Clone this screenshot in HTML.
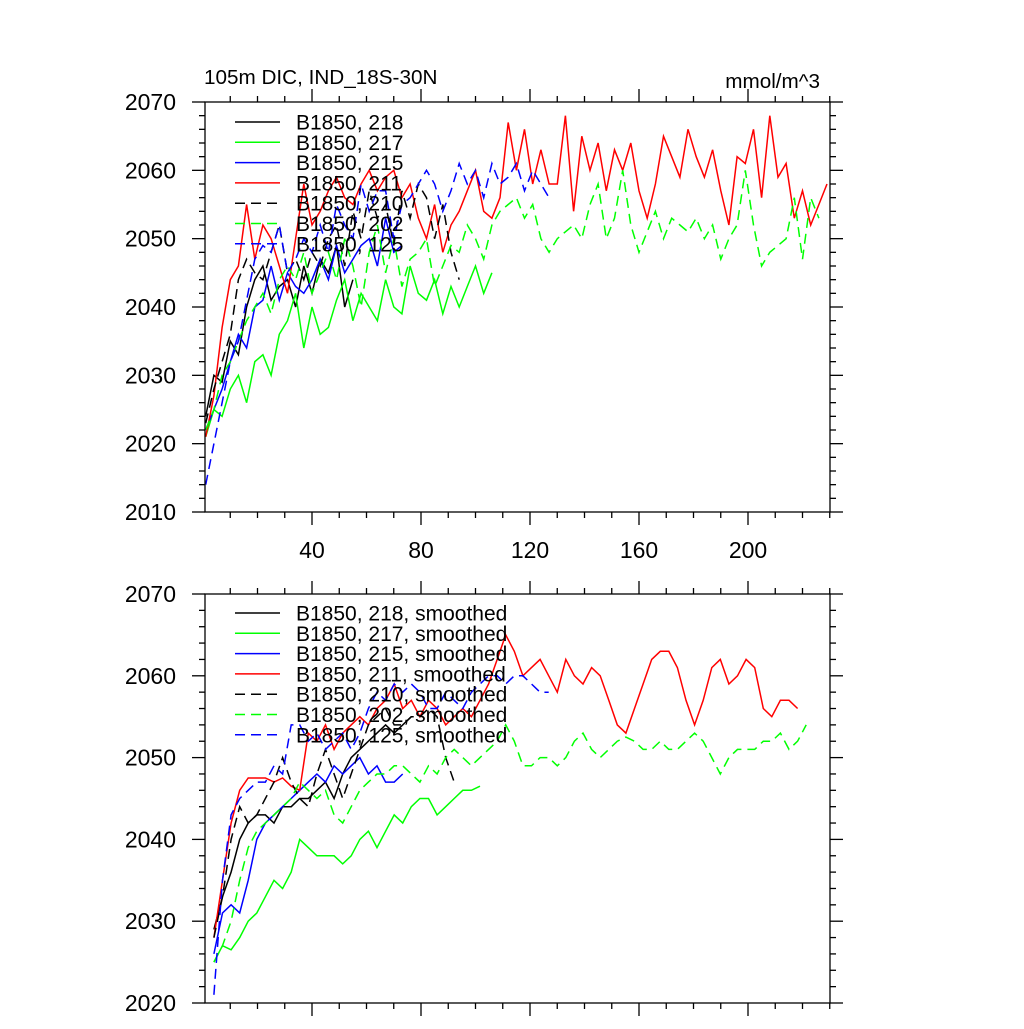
<!DOCTYPE html>
<html><head><meta charset="utf-8"><style>
body{margin:0;background:#fff;width:1024px;height:1024px;overflow:hidden}
svg{font-family:"Liberation Sans",sans-serif}
</style></head><body>
<svg id="chart" width="1024" height="1024" xmlns="http://www.w3.org/2000/svg">
<text x="204" y="84" font-size="20.7">105m DIC, IND_18S-30N</text>
<text x="820" y="88" font-size="20.7" text-anchor="end">mmol/m^3</text>
</svg>
<script>
// ---- data ----
const xTicks=[40,80,120,160,200];
const topYTicks=[2010,2020,2030,2040,2050,2060,2070];
const botYTicks=[2020,2030,2040,2050,2060,2070];
const names=["B1850, 218","B1850, 217","B1850, 215","B1850, 211","B1850, 210","B1850, 202","B1850, 125"];
const colors=["#000","#0f0","#00f","#f00","#000","#0f0","#00f"];
const dashed=[false,false,false,false,true,true,true];
const rawStart=1, rawStep=3, smStart=4, smStep=3.15;
const raw218=[2024,2030,2029,2035,2033,2040,2044,2046,2041,2043,2044,2040,2046,2042,2047,2045,2049,2040,2044];
const raw217=[2021,2025,2024,2028,2030,2026,2032,2033,2030,2036,2038,2042,2034,2040,2036,2037,2041,2044,2038,2042,2040,2038,2044,2040,2039,2046,2042,2041,2044,2039,2043,2040,2043,2046,2042,2045];
const raw215=[2022,2025,2028,2032,2036,2034,2040,2041,2046,2041,2045,2043,2042,2044,2047,2044,2049,2045,2047,2049,2050,2046,2053,2048,2049];
const raw211=[2021,2027,2037,2044,2046,2055,2047,2052,2050,2046,2042,2050,2058,2052,2054,2057,2059,2056,2055,2058,2060,2057,2059,2060,2056,2058,2053,2050,2055,2048,2052,2054,2057,2060,2054,2053,2056,2067,2060,2066,2058,2063,2058,2058,2068,2054,2065,2060,2064,2057,2063,2060,2064,2057,2053,2058,2065,2062,2059,2066,2062,2059,2063,2057,2052,2062,2061,2066,2056,2068,2059,2061,2053,2057,2052,2055,2058];
const raw210=[2023,2028,2032,2036,2044,2047,2045,2044,2048,2052,2045,2047,2044,2048,2046,2050,2052,2046,2054,2050,2057,2053,2055,2049,2057,2053,2058,2056,2050,2055,2048,2044];
const raw202=[2022,2025,2030,2032,2035,2038,2040,2042,2039,2044,2046,2044,2048,2042,2045,2048,2044,2050,2046,2040,2048,2052,2045,2050,2043,2047,2048,2050,2043,2046,2049,2048,2052,2050,2047,2052,2054,2055,2056,2053,2055,2050,2048,2050,2051,2052,2050,2055,2058,2050,2053,2060,2052,2048,2051,2054,2050,2053,2052,2051,2053,2050,2052,2047,2050,2052,2060,2052,2046,2048,2049,2050,2056,2047,2056,2053];
const raw125=[2014,2020,2026,2032,2035,2041,2047,2049,2048,2052,2045,2047,2050,2048,2052,2048,2055,2052,2050,2058,2054,2057,2057,2050,2055,2056,2058,2060,2058,2054,2057,2061,2058,2060,2056,2061,2058,2059,2061,2057,2060,2058,2056];
const sm218=[2029,2033,2036,2040,2042,2043,2043,2042,2044,2044,2045,2045,2046,2047,2045,2048,2050,2051,2052,2053,2054,2053,2054,2055];
const sm217=[2025,2027,2026.5,2028,2030,2031,2033,2035,2034,2036,2040,2039,2038,2038,2038,2037,2038,2040,2041,2039,2041,2043,2042,2044,2045,2045,2043,2044,2045,2046,2046,2046.5];
const sm215=[2026,2031,2032,2031,2035,2040,2042,2043,2044,2045,2046,2047,2048,2047,2049,2048,2049,2050,2048,2049,2047,2047,2048];
const sm211=[2028,2035,2042,2046,2047.5,2047.5,2047.5,2047,2047.5,2046.5,2046,2053,2052,2054,2051,2053,2054,2055,2054,2056,2057,2059,2056,2057,2055,2057,2056,2054,2055,2056,2055,2057,2059,2062,2065,2063,2060,2061,2062,2060,2058,2062,2060,2059,2061,2060,2057,2054,2053,2056,2059,2062,2063,2063,2061,2057,2054,2057,2061,2062,2059,2060,2062,2061,2056,2055,2057,2057,2056];
const sm210=[2028,2033,2040,2044,2042,2043,2045,2047,2050,2047,2045,2044,2048,2051,2048,2045,2048,2051,2054,2055,2056,2054,2054,2055,2055,2056,2055,2050,2047];
const sm202=[2025,2027,2030,2035,2039,2041,2042,2043,2044,2045,2047,2046,2045,2046,2043,2042,2044,2046,2047,2048,2048,2049,2049,2048,2047,2049,2048,2050,2051,2050,2049,2050,2051,2052,2054,2052,2049,2049,2050,2050,2049,2050,2052,2053,2051,2050,2051,2052,2052.5,2052,2051,2051,2052,2051,2051,2052,2053,2052,2050,2048,2050,2051,2051,2051,2052,2052,2053,2051,2052,2054];
const sm125=[2021,2035,2043,2045,2046,2047,2047,2049,2048,2054,2054,2052,2053,2051,2052,2053,2051,2053,2056,2058,2057,2059,2058,2059,2058,2056,2056,2058,2057,2056,2058,2059,2060,2060,2059,2060,2060,2059,2058,2058];
const rawSeries=[raw218,raw217,raw215,raw211,raw210,raw202,raw125];
const smSeries=[sm218,sm217,sm215,sm211,sm210,sm202,sm125];

// ---- drawing ----
const svg=document.getElementById('chart');
const NS="http://www.w3.org/2000/svg";
const X0=205,X1=830;
const xs=v=>203+2.725*v;
function mk(t,a,parent){const e=document.createElementNS(NS,t);for(const k in a)e.setAttribute(k,a[k]);(parent||svg).appendChild(e);return e;}
function panel(tag,top,bot,yMin,yMax,yTicks,series,start,step,suffix,legendY,xLabels){
  const g=mk('g',{});
  
  
  const ys=v=>bot-(v-yMin)/(yMax-yMin)*(bot-top);
  const clip=mk('clipPath',{id:'c'+tag},g);mk('rect',{x:X0,y:top,width:X1-X0,height:bot-top},clip);
  const sg=mk('g',{'clip-path':'url(#c'+tag+')'},g);
  series.forEach((d,i)=>{
    const pts=d.map((v,j)=>xs(start+j*step).toFixed(1)+','+ys(v).toFixed(1)).join(' ');
    const p=mk('polyline',{points:pts,fill:'none',stroke:colors[i],'stroke-width':1.5,'stroke-dasharray':dashed[i]?'10,6':'none'},sg);
    
    
  });
  const ax=mk('g',{stroke:'#000','stroke-width':1.3},g);
  
  
  mk('rect',{x:X0,y:top,width:X1-X0,height:bot-top,fill:'none'},ax);
  for(let v=yMin;v<=yMax;v+=2){const y=ys(v),L=(v%10===0)?13:6;
    mk('line',{x1:X0-L,y1:y,x2:X0,y2:y},ax);mk('line',{x1:X1,y1:y,x2:X1+L,y2:y},ax);}
  for(let v=10;v<=230;v+=10){const x=xs(v);if(x<X0||x>X1)continue;const L=(v%40===0)?13:6;
    mk('line',{x1:x,y1:bot,x2:x,y2:bot+L},ax);mk('line',{x1:x,y1:top-L,x2:x,y2:top},ax);}
  yTicks.forEach(v=>{const t=mk('text',{x:176,y:ys(v)+8,'font-size':23,'text-anchor':'end'},g);t.textContent=v;
    
    });
  if(xLabels)xTicks.forEach(v=>{const t=mk('text',{x:xs(v),y:bot+46,'font-size':23,'text-anchor':'middle'},g);t.textContent=v;
    
    });
  names.forEach((n,i)=>{const y=legendY+i*20.3;
    const le=mk('g',{},g);
    
    
    mk('line',{x1:235,y1:y,x2:280,y2:y,stroke:colors[i],'stroke-width':1.5,'stroke-dasharray':dashed[i]?'10,6':'none'},le);
    const t=mk('text',{x:296,y:y+7.5,'font-size':21},le);t.textContent=n+suffix;});
}
panel('top',102,512,2010,2070,topYTicks,rawSeries,rawStart,rawStep,'',122,true);
panel('bottom',594,1003,2020,2070,botYTicks,smSeries,smStart,smStep,', smoothed',613,false);
</script>
</body></html>
